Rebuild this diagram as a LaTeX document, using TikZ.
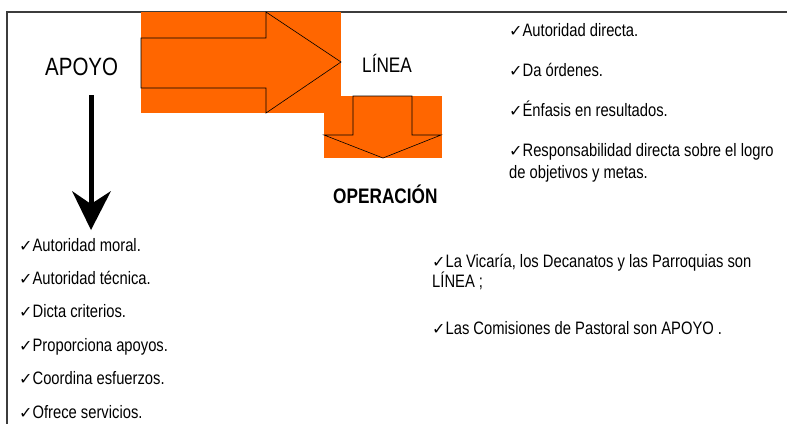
\documentclass[tikz,border=0pt]{standalone}
\usepackage{fontspec}
\setmainfont{Liberation Sans}[FakeStretch=0.82]
\newfontfamily\symf{DejaVu Sans}
\newcommand{\ck}{{\symf\fontsize{16}{16}\selectfont ✓}}
\definecolor{orng}{RGB}{255,102,0}
\definecolor{frm}{RGB}{60,60,60}
\tikzset{
  item/.style={anchor=base west, inner sep=0pt, font=\fontsize{18}{22}\selectfont},
  title/.style={anchor=base west, inner sep=0pt},
  orngbg/.style={fill=orng, draw=none},
  blockarrow/.style={fill=orng, draw=black, line width=0.6pt, line join=miter},
  frameline/.style={draw=frm, line width=1.4pt}
}
\begin{document}
\begin{tikzpicture}[x=1pt,y=-1pt]
\useasboundingbox (0,0) rectangle (787,424);
% frame
\draw[frameline] (787,12) -- (7,12) -- (7,424);
% right block arrow
\fill[orngbg] (141,12) rectangle (341,113);
\draw[blockarrow] (141,38) -- (266,38) -- (266,12) -- (341,62) -- (266,113) -- (266,88) -- (141,88) -- cycle;
% down block arrow
\fill[orngbg] (324,96) rectangle (442,158);
\draw[blockarrow] (353,96) -- (412,96) -- (412,135) -- (441,135) -- (383,158) -- (324,135) -- (353,135) -- cycle;
% titles
\node[title, font=\fontsize{25}{25}\selectfont] (apoyo) at (45,75) {APOYO};
\node[title, font=\fontsize{21}{21}\selectfont] (linea) at (362,72) {LÍNEA};
\node[title, font=\bfseries\fontsize{21}{21}\selectfont] (oper) at (333,203) {OPERACIÓN};
% black arrow
\coordinate (a0) at (91,95);
\coordinate (a1) at (91,204);
\coordinate (tip) at (91,230);
\fill[black] (88.5,95) rectangle (93.5,204);
\fill[black] (72,191) -- (tip) -- (111,191) -- (a1) -- cycle;
% right upper list
\node[item] (r1) at (509,36) {\ck Autoridad directa.};
\node[item] (r2) at (509,76) {\ck Da órdenes.};
\node[item] (r3) at (509,116) {\ck Énfasis en resultados.};
\node[item] (r4) at (509,156) {\ck Responsabilidad directa sobre el logro};
\node[item] (r4b) at (509,178) {de objetivos y metas.};
% left list
\node[item] (p1) at (19,251) {\ck Autoridad moral.};
\node[item] (p2) at (19,284.4) {\ck Autoridad técnica.};
\node[item] (p3) at (19,317.8) {\ck Dicta criterios.};
\node[item] (p4) at (19,351.2) {\ck Proporciona apoyos.};
\node[item] (p5) at (19,384.6) {\ck Coordina esfuerzos.};
\node[item] (p6) at (19,418) {\ck Ofrece servicios.};
% right lower
\node[item] (v1) at (432,267) {\ck La Vicaría, los Decanatos y las Parroquias son};
\node[item] (v1b) at (432,287) {LÍNEA ;};
\node[item] (v2) at (432,334) {\ck Las Comisiones de Pastoral son APOYO .};
\end{tikzpicture}
\end{document}
